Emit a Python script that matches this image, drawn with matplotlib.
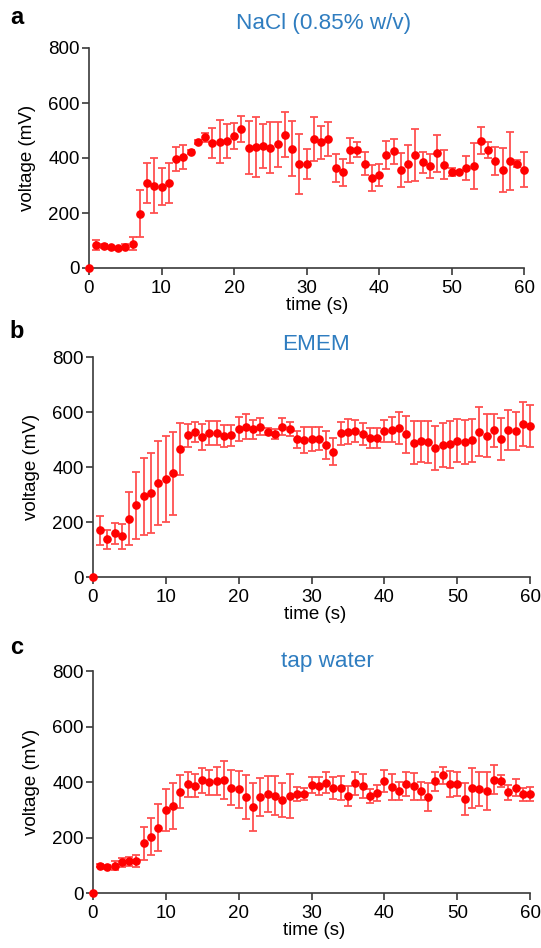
import matplotlib
matplotlib.use("Agg")
import matplotlib.pyplot as plt
import numpy as np

plt.rcParams['font.family'] = ['Liberation Sans', 'DejaVu Sans']

time_s = list(range(0, 61))

nacl_mean = [0, 85, 80, 75, 72, 78, 88, 198, 309, 300, 296, 308, 396, 404, 422, 458, 475, 455, 459, 462,
             480, 505, 438, 441, 444, 438, 450, 484, 434, 379, 378, 469, 457, 469, 364, 348, 428, 430, 379, 327,
             339, 411, 424, 358, 379, 411, 384, 370, 417, 375, 349, 348, 365, 370, 463, 428, 390, 356, 389, 379, 358]
nacl_err = [0, 18, 6, 5, 5, 10, 24, 87, 72, 99, 68, 73, 43, 44, 8, 6, 16, 55, 78, 61,
            47, 47, 97, 109, 81, 93, 82, 82, 100, 109, 53, 79, 60, 61, 52, 48, 46, 28, 42, 47,
            41, 50, 45, 62, 68, 93, 38, 44, 67, 53, 16, 5, 44, 84, 48, 29, 50, 81, 104, 13, 64]

emem_mean = [0, 170, 137, 159, 148, 213, 261, 294, 307, 343, 356, 378, 466, 516, 528, 509, 525, 525, 514, 516,
             539, 548, 538, 548, 530, 521, 548, 539, 502, 499, 502, 504, 481, 457, 523, 530, 532, 521, 506, 506,
             532, 537, 542, 520, 489, 494, 492, 469, 480, 483, 497, 492, 498, 530, 515, 534, 504, 534, 532, 557, 550]
emem_err = [0, 52, 36, 37, 46, 96, 122, 141, 146, 154, 157, 151, 95, 42, 35, 48, 44, 44, 39, 38,
            44, 45, 34, 31, 13, 17, 31, 26, 31, 47, 44, 43, 50, 50, 43, 45, 41, 41, 36, 37,
            40, 46, 59, 67, 79, 74, 76, 80, 80, 85, 78, 81, 78, 89, 78, 61, 77, 73, 70, 81, 75]

tap_mean = [0, 99, 94, 99, 111, 115, 115, 179, 203, 235, 298, 314, 366, 392, 387, 406, 399, 405, 408, 380,
            374, 345, 309, 346, 357, 351, 336, 350, 357, 357, 390, 385, 398, 380, 379, 350, 396, 387, 350, 361,
            405, 382, 367, 393, 385, 368, 346, 403, 425, 394, 394, 340, 378, 375, 369, 409, 403, 363, 380, 356, 357]
tap_err = [0, 6, 6, 16, 16, 16, 22, 60, 67, 85, 76, 82, 59, 44, 42, 44, 46, 50, 67, 64,
           68, 79, 87, 69, 64, 70, 61, 80, 25, 22, 30, 33, 38, 39, 43, 36, 41, 44, 24, 28,
           40, 48, 33, 42, 49, 34, 50, 34, 31, 46, 43, 58, 72, 62, 68, 52, 22, 27, 30, 23, 24]

titles = ["NaCl (0.85% w/v)", "EMEM", "tap water"]
letters = ["a", "b", "c"]
y_ticks = [0, 200, 400, 600, 800]
x_ticks = [0, 10, 20, 30, 40, 50, 60]

W, H = 541, 948
fig = plt.figure(figsize=(W / 100, H / 100), dpi=100)

# axes boxes in pixels: left, right, top, bottom
boxes = [(89, 524.3, 48, 268), (92.7, 530.3, 357.4, 577), (92.7, 530.3, 671.3, 893)]
title_xy = [(324, 24), (316, 345), (327, 661)]
xlabel_x = [317.5, 315, 313.7]
letter_y = [18, 331, 647]
series = [(nacl_mean, nacl_err), (emem_mean, emem_err), (tap_mean, tap_err)]

spine_col = '#3a3a3a'
for i, (box, (m, e)) in enumerate(zip(boxes, series)):
    l, r, t, b = box
    ax = fig.add_axes([l / W, 1 - b / H, (r - l) / W, (b - t) / H])
    ax.errorbar(time_s, m, yerr=e, fmt='none', ecolor='#ff5050', elinewidth=1.3,
                capsize=3, capthick=1.3, clip_on=False, zorder=2)
    ax.plot(time_s, m, 'o', color='#ff0000', markersize=5.2, clip_on=False, zorder=3)
    ax.set_xlim(0, 60)
    ax.set_ylim(0, 800)
    ax.set_xticks(x_ticks)
    ax.set_yticks(y_ticks)
    for s in ['top', 'right']:
        ax.spines[s].set_visible(False)
    for s in ['left', 'bottom']:
        ax.spines[s].set_color(spine_col)
        ax.spines[s].set_linewidth(1.2)
    ax.tick_params(axis='both', direction='out', length=5, width=1.2, color=spine_col,
                   labelsize=13.5, labelcolor='black')
    ax.tick_params(axis='x', pad=3.5)
    ax.tick_params(axis='y', pad=1.5)
    ax.set_xlabel("time (s)", fontsize=13.5, labelpad=0)
    ax.xaxis.label.set_x((xlabel_x[i] - l) / (r - l))
    ax.set_ylabel("voltage (mV)", fontsize=13.5, labelpad=9)
    tx, ty = title_xy[i]
    fig.text(tx / W, 1 - ty / H, titles[i], fontsize=16.2, color='#2f7dc0',
             ha='center', va='center')
    fig.text(17 / W, 1 - letter_y[i] / H, letters[i], fontsize=17, fontweight='bold',
             ha='center', va='center')

fig.savefig("out.png", dpi=100)
